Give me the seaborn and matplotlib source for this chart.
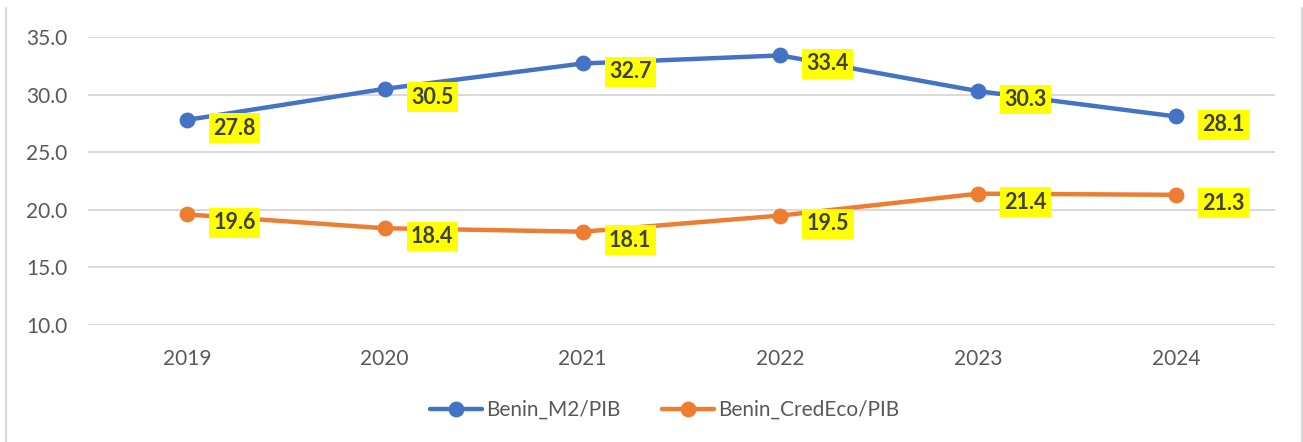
import pandas as pd
import seaborn as sns
import matplotlib.pyplot as plt
from matplotlib.lines import Line2D

# Data
years = ["2019", "2020", "2021", "2022", "2023", "2024"]
m2_pib = [27.8, 30.5, 32.7, 33.4, 30.3, 28.1]
credeco_pib = [19.6, 18.4, 18.1, 19.5, 21.4, 21.3]
series_names = ["Benin_M2/PIB", "Benin_CredEco/PIB"]
colors = ["#4472C4", "#ED7D31"]
y_ticks = [10, 15, 20, 25, 30, 35]

df = pd.DataFrame({
    "year": years * 2,
    "value": m2_pib + credeco_pib,
    "series": [series_names[0]] * len(years) + [series_names[1]] * len(years),
})

sns.set_theme(style="white")
plt.rcParams["font.family"] = ["Lato", "DejaVu Sans"]

fig = plt.figure(figsize=(13.03, 4.42), dpi=100)
ax = fig.add_axes([0.0675, 0.2647, 0.911, 0.6516])

sns.pointplot(data=df, x="year", y="value", hue="series", palette=colors,
              markers="o", linestyles="-", markersize=9, linewidth=3.2,
              ax=ax, errorbar=None)

# yellow data labels
for vals in [m2_pib, credeco_pib]:
    for i, v in enumerate(vals):
        ax.annotate(f"{v:.1f}", (i, v), xytext=(19, -6), textcoords="offset points",
                    ha="left", va="center", fontsize=15.5, fontweight="bold",
                    color="#404040",
                    bbox=dict(boxstyle="square,pad=0.2", fc="#FFFF00", ec="none"))

ax.set_xlim(-0.5, len(years) - 0.5)
ax.set_ylim(10, 35)
ax.set_yticks(y_ticks)
ax.set_yticklabels([f"{t:.1f}" for t in y_ticks])
ax.grid(axis="y", color="#D9D9D9", linewidth=1.4)
ax.set_axisbelow(True)
for s in ax.spines.values():
    s.set_visible(False)
ax.tick_params(axis="y", labelsize=15, colors="#595959", pad=15, length=0)
ax.tick_params(axis="x", labelsize=15, colors="#595959", pad=17, length=0)
ax.set_xlabel("")
ax.set_ylabel("")

handles, labels = ax.get_legend_handles_labels()
ax.legend(handles, labels, loc="center", bbox_to_anchor=(0.486, -0.295), ncol=2,
          frameon=False, fontsize=15, labelcolor="#595959", handlelength=2.5,
          columnspacing=2.0, handletextpad=0.2)

# chart frame edges
fig.add_artist(Line2D([0.0046, 0.0046], [0, 0.982], color="#D9D9D9", lw=1.5))
fig.add_artist(Line2D([0.9992, 0.9992], [0, 0.982], color="#D9D9D9", lw=1.5))

fig.savefig("out.png", dpi=100)
